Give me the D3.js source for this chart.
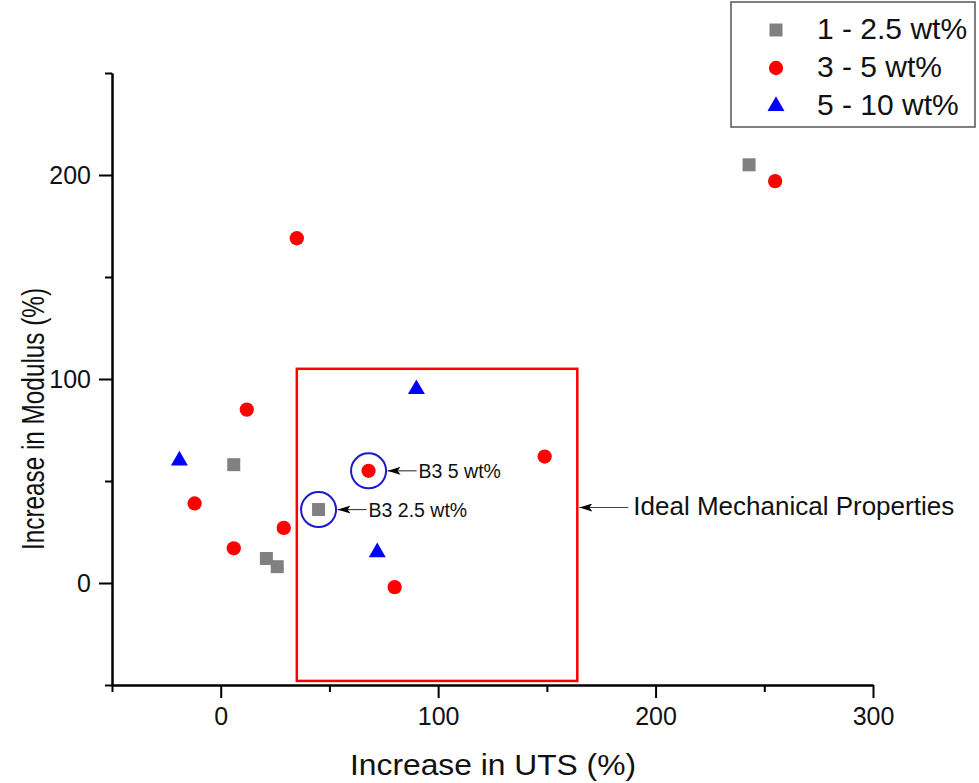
<!DOCTYPE html>
<html>
<head>
<meta charset="utf-8">
<script src="https://cdn.jsdelivr.net/npm/d3@7"></script>
<style>
  body { margin: 0; background: #fff; }
  svg { display: block; font-family: "Liberation Sans", Arial, sans-serif; }
</style>
</head>
<body>
<svg id="chart" width="979" height="783"></svg>
<script>
// ---- data ----
const seriesNames = ["1 - 2.5 wt%", "3 - 5 wt%", "5 - 10 wt%"];
const seriesColors = ["#808080", "#ff0000", "#0000ff"];
const lowUTS = [243, 6, 21, 26, 45];
const lowMod = [205, 58, 12, 8, 36];
const midUTS = [255, 35, 12, -12, 6, 29, 68, 149, 80];
const midMod = [197, 169, 85, 39, 17, 27, 55, 62, -2];
const highUTS = [-19, 90, 72];
const highMod = [60, 95, 15];
const xMajorTicks = [0, 100, 200, 300];
const xMinorTicks = [-50, 50, 150, 250];
const yMajorTicks = [0, 100, 200];
const yMinorTicks = [-50, 50, 150, 250];
const idealBox = { x0: 35, x1: 164, y0: -48, y1: 105 };
const annotations = [
  { label: "B3 5 wt%", uts: 68, mod: 55 },
  { label: "B3 2.5 wt%", uts: 45, mod: 36 }
];
const boxLabel = "Ideal Mechanical Properties";
const boxLabelMod = 37;

// ---- layout ----
const svg = d3.select("#chart");
const x = d3.scaleLinear().domain([-50, 300]).range([112, 873]);
const y = d3.scaleLinear().domain([-50, 250]).range([685, 73]);

const defs = svg.append("defs");
defs.append("marker")
  .attr("id", "arrow")
  .attr("viewBox", "0 0 13 8")
  .attr("refX", 13).attr("refY", 4)
  .attr("markerWidth", 13).attr("markerHeight", 8)
  .attr("markerUnits", "userSpaceOnUse")
  .attr("orient", "auto")
  .append("path").attr("d", "M0,0 L13,4 L0,8 L3,4 Z").attr("fill", "#000");

// ideal box
svg.append("rect")
  .attr("x", x(idealBox.x0)).attr("y", y(idealBox.y1))
  .attr("width", x(idealBox.x1) - x(idealBox.x0))
  .attr("height", y(idealBox.y0) - y(idealBox.y1))
  .attr("fill", "none").attr("stroke", "#ff0000").attr("stroke-width", 2.5);

// axes
function styleAxis(g) {
  g.select(".domain").attr("stroke", "#000").attr("stroke-width", 2);
  g.selectAll(".tick line").attr("stroke", "#000").attr("stroke-width", 2);
}
const gxMinor = svg.append("g").attr("transform", "translate(0,685)")
  .call(d3.axisBottom(x).tickValues(xMinorTicks).tickSize(7).tickFormat("").tickSizeOuter(0));
styleAxis(gxMinor);
const gx = svg.append("g").attr("transform", "translate(0,685)")
  .call(d3.axisBottom(x).tickValues(xMajorTicks).tickSize(13).tickPadding(9).tickSizeOuter(0));
styleAxis(gx);
gx.selectAll(".tick text").attr("font-size", 25).attr("fill", "#111")
  .attr("font-family", "'Liberation Sans', Arial, sans-serif");

const gyMinor = svg.append("g").attr("transform", "translate(112,0)")
  .call(d3.axisLeft(y).tickValues(yMinorTicks).tickSize(7).tickFormat("").tickSizeOuter(0));
styleAxis(gyMinor);
const gy = svg.append("g").attr("transform", "translate(112,0)")
  .call(d3.axisLeft(y).tickValues(yMajorTicks).tickSize(13).tickPadding(8).tickSizeOuter(0));
styleAxis(gy);
gy.selectAll(".tick text").attr("font-size", 25).attr("fill", "#111")
  .attr("font-family", "'Liberation Sans', Arial, sans-serif");

// axis titles
svg.append("text")
  .attr("x", 493).attr("y", 775)
  .attr("text-anchor", "middle").attr("font-size", 30).attr("fill", "#111")
  .attr("textLength", 286).attr("lengthAdjust", "spacingAndGlyphs")
  .text("Increase in UTS (%)");
svg.append("text")
  .attr("transform", "translate(44,419) rotate(-90)")
  .attr("text-anchor", "middle").attr("font-size", 31).attr("fill", "#111")
  .attr("textLength", 262).attr("lengthAdjust", "spacingAndGlyphs")
  .text("Increase in Modulus (%)");

// markers
const symSquare = d3.symbol().type(d3.symbolSquare).size(169);
const symCircle = d3.symbol().type(d3.symbolCircle).size(160);
const symTri = d3.symbol().type(d3.symbolTriangle).size(125);
const series = [
  { uts: lowUTS, mod: lowMod, sym: symSquare, color: seriesColors[0] },
  { uts: midUTS, mod: midMod, sym: symCircle, color: seriesColors[1] },
  { uts: highUTS, mod: highMod, sym: symTri, color: seriesColors[2] }
];
series.forEach(s => {
  svg.append("g").selectAll("path")
    .data(s.uts.map((u, i) => [u, s.mod[i]]))
    .join("path")
    .attr("d", s.sym())
    .attr("transform", d => `translate(${x(d[0])},${y(d[1])})`)
    .attr("fill", s.color);
});

// annotations
annotations.forEach(a => {
  const cx = x(a.uts), cy = y(a.mod);
  svg.append("circle").attr("cx", cx).attr("cy", cy).attr("r", 17.5)
    .attr("fill", "none").attr("stroke", "#1a1acc").attr("stroke-width", 2);
  svg.append("line")
    .attr("x1", cx + 48).attr("y1", cy).attr("x2", cx + 19).attr("y2", cy)
    .attr("stroke", "#444").attr("stroke-width", 1.2)
    .attr("marker-end", "url(#arrow)");
  svg.append("text").attr("x", cx + 50).attr("y", cy + 2)
    .attr("dominant-baseline", "middle").attr("font-size", 19.5).attr("fill", "#111")
    .text(a.label);
});
const bx = x(idealBox.x1), by = y(boxLabelMod);
svg.append("line")
  .attr("x1", bx + 51).attr("y1", by).attr("x2", bx + 2).attr("y2", by)
  .attr("stroke", "#444").attr("stroke-width", 1.2)
  .attr("marker-end", "url(#arrow)");
svg.append("text").attr("x", bx + 56).attr("y", by + 1)
  .attr("dominant-baseline", "middle").attr("font-size", 26).attr("fill", "#111")
  .text(boxLabel);

// legend
const lg = svg.append("g");
lg.append("rect").attr("x", 731).attr("y", 2).attr("width", 244).attr("height", 125)
  .attr("fill", "#fff").attr("stroke", "#555").attr("stroke-width", 1.5);
const legendSyms = [symSquare, symCircle, symTri];
seriesNames.forEach((name, i) => {
  const ly = 30 + i * 38;
  lg.append("path").attr("d", legendSyms[i]())
    .attr("transform", `translate(776,${ly})`).attr("fill", seriesColors[i]);
  lg.append("text").attr("x", 817).attr("y", ly + 1)
    .attr("dominant-baseline", "middle").attr("font-size", 30).attr("fill", "#111")
    .text(name);
});
</script>
</body>
</html>
